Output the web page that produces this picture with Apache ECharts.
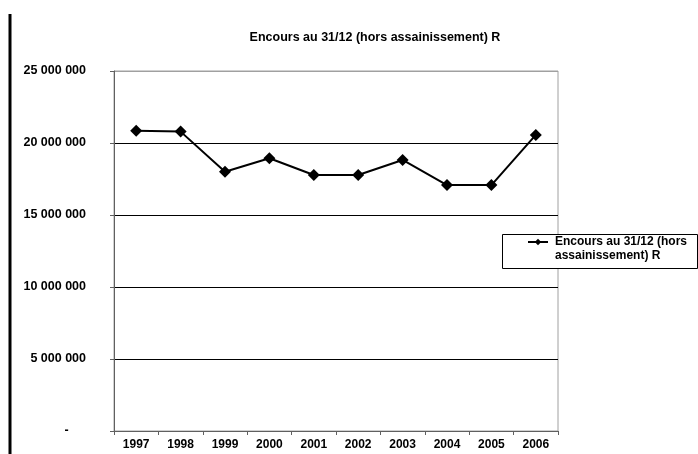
<!DOCTYPE html>
<html>
<head>
<meta charset="utf-8">
<script src="https://cdn.jsdelivr.net/npm/echarts@6/dist/echarts.min.js"></script>
<style>
  html, body { margin: 0; padding: 0; background: #fff; }
  #chart { width: 698px; height: 454px; }
</style>
</head>
<body>
<div id="chart"></div>
<script>
const years = ['1997', '1998', '1999', '2000', '2001', '2002', '2003', '2004', '2005', '2006'];
const encours = [20850000, 20790000, 18000000, 18940000, 17780000, 17780000, 18820000, 17080000, 17080000, 20560000];
const seriesName = 'Encours au 31/12 (hors assainissement) R';
const titleText = 'Encours au 31/12 (hors assainissement) R';

const font = '"Liberation Sans", Arial, sans-serif';

const chart = echarts.init(document.getElementById('chart'));

function fmtNum(v) {
  if (v === 0) return '-     ';
  return String(v).replace(/\B(?=(\d{3})+(?!\d))/g, ' ');
}

chart.setOption({
  backgroundColor: '#fff',
  animation: false,
  title: {
    text: titleText,
    left: 370,
    top: 26,
    textAlign: 'center',
    textStyle: { fontFamily: font, fontSize: 12.5, fontWeight: 'bold', color: '#000' }
  },
  grid: {
    left: 114, top: 71, right: 140, bottom: 23,
    show: true, borderColor: '#a0a0a0', borderWidth: 1
  },
  legend: {
    left: 527,
    top: 221,
    padding: 0,
    itemWidth: 20,
    itemHeight: 8,
    itemGap: 0,
    formatter: name => '\nEncours au 31/12 (hors\nassainissement) R',
    textStyle: { fontFamily: font, fontSize: 12, fontWeight: 'bold', color: '#000', lineHeight: 14, padding: [0, 0, 0, 2] },
    data: [seriesName]
  },
  xAxis: {
    type: 'category',
    data: years,
    boundaryGap: true,
    axisLine: { lineStyle: { color: '#606060', width: 1 } },
    axisTick: { show: true, length: 4, inside: false, lineStyle: { color: '#606060' } },
    axisLabel: { margin: 8, fontFamily: font, fontSize: 12, fontWeight: 'bold', color: '#000' },
    splitLine: { show: false }
  },
  yAxis: {
    type: 'value',
    min: 0,
    max: 25000000,
    interval: 5000000,
    axisLine: { show: true, lineStyle: { color: '#606060', width: 1 } },
    axisTick: { show: true, length: 4, lineStyle: { color: '#606060' } },
    axisLabel: { margin: 28, fontFamily: font, fontSize: 12.5, fontWeight: 'bold', color: '#000', formatter: fmtNum },
    splitLine: { show: true, lineStyle: { color: ['#606060', '#000', '#000', '#000', '#000', '#a0a0a0'], width: 1 } }
  },
  graphic: [
    {
      type: 'line',
      shape: { x1: 10, y1: 14, x2: 10, y2: 454 },
      style: { stroke: '#000', lineWidth: 3 },
      z: 10
    },
    {
      type: 'rect',
      shape: { x: 502.5, y: 234.5, width: 195, height: 34 },
      style: { fill: '#fff', stroke: '#000', lineWidth: 1 },
      z: 0
    }
  ],
  series: [{
    name: seriesName,
    type: 'line',
    data: encours,
    symbol: 'diamond',
    symbolSize: 12,
    lineStyle: { color: '#000', width: 2 },
    itemStyle: { color: '#000' },
    z: 5
  }]
});
</script>
</body>
</html>
